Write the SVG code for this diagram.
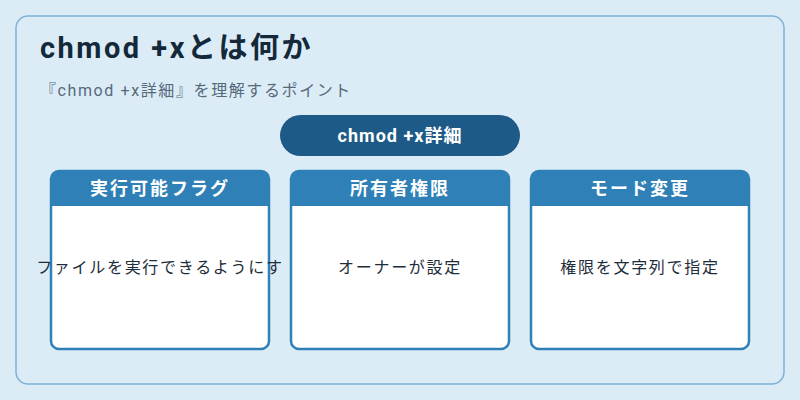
<svg xmlns="http://www.w3.org/2000/svg" width="800" height="400" viewBox="0 0 800 400">
<style>
.t{font-family:Roboto,"Noto Sans CJK JP",sans-serif}
.hd{fill:#2e80b6}
.card{fill:#fff;stroke:#2e80b6;stroke-width:2.5}
.ht{font-size:18px;font-weight:bold;fill:#fff;text-anchor:middle;letter-spacing:2px}
.bt{font-size:16px;fill:#1e2d3a;text-anchor:middle;letter-spacing:1.7px}
</style>
<rect width="800" height="400" fill="#dcecf7"/>
<rect x="16" y="16" width="768" height="368" rx="12" fill="#dcecf7" stroke="#7ab3d6" stroke-width="1.5"/>
<text class="t" x="40" y="58" font-size="29" font-weight="bold" fill="#13293a" letter-spacing="2.5">chmod +xとは何か</text>
<text class="t" x="40" y="96" font-size="16" fill="#55697a" letter-spacing="1.6">『chmod +x詳細』を理解するポイント</text>
<g id="pill"><rect x="280" y="115" width="240" height="41" rx="20.5" fill="#1e5a87"/>
<text class="t ht" x="400" y="142" style="letter-spacing:1px">chmod +x詳細</text></g>
<g id="n1"><rect class="card" x="51" y="171" width="218" height="178" rx="8"/>
<path class="hd" d="M51 206V179a8 8 0 0 1 8-8H261a8 8 0 0 1 8 8V206Z"/>
<text class="t ht" x="160" y="195">実行可能フラグ</text>
<text class="t bt" x="160" y="273">ファイルを実行できるようにす</text></g>
<g id="n2"><rect class="card" x="291" y="171" width="218" height="178" rx="8"/>
<path class="hd" d="M291 206V179a8 8 0 0 1 8-8H501a8 8 0 0 1 8 8V206Z"/>
<text class="t ht" x="400" y="195">所有者権限</text>
<text class="t bt" x="400" y="273">オーナーが設定</text></g>
<g id="n3"><rect class="card" x="531" y="171" width="218" height="178" rx="8"/>
<path class="hd" d="M531 206V179a8 8 0 0 1 8-8H741a8 8 0 0 1 8 8V206Z"/>
<text class="t ht" x="640" y="195">モード変更</text>
<text class="t bt" x="640" y="273">権限を文字列で指定</text></g>
<g id="connectors"/>
</svg>
